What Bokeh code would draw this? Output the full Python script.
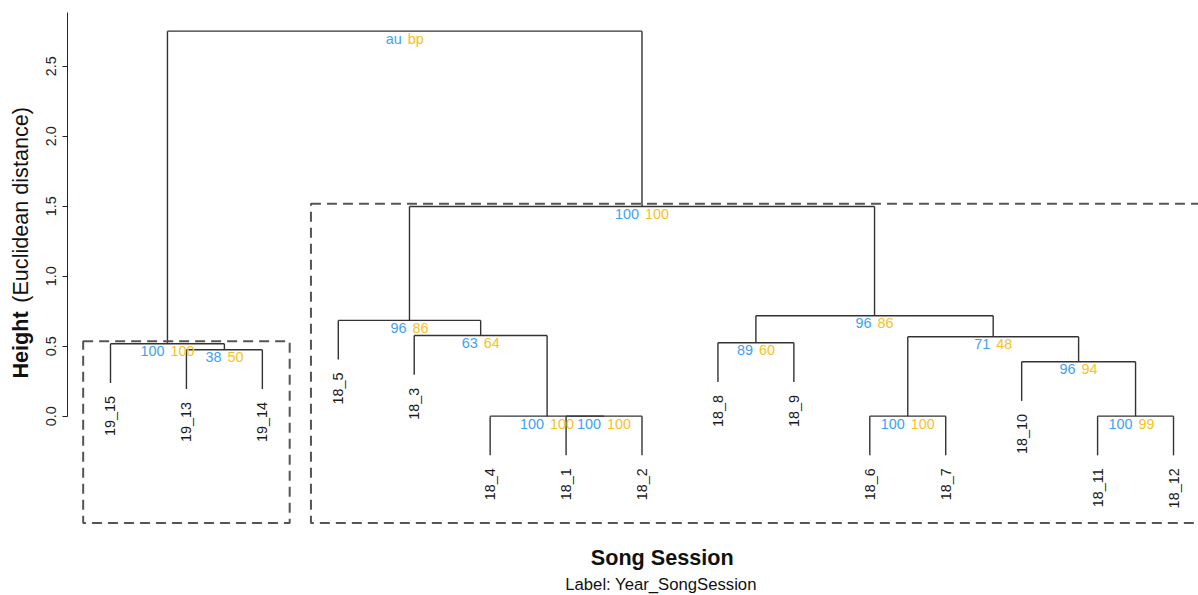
from math import pi

from bokeh.core.properties import value
from bokeh.embed import file_html
from bokeh.models import FixedTicker, Label, PrintfTickFormatter, Range1d
from bokeh.plotting import figure
from bokeh.resources import INLINE

# Leaves in dendrogram order (Year_SongSession)
leaf_labels = ["19_15", "19_13", "19_14", "18_5", "18_3", "18_4", "18_1", "18_2",
               "18_8", "18_9", "18_6", "18_7", "18_10", "18_11", "18_12"]

# Agglomeration steps: children, merge height, AU / BP support (%)
node_left = ["18_1", "18_4", "18_6", "18_11", "18_10", "19_13", "19_15",
             "18_8", "n3", "18_3", "18_5", "n8", "n11", "n7"]
node_right = ["18_2", "n1", "18_7", "18_12", "n4", "19_14", "n6",
              "18_9", "n5", "n2", "n10", "n9", "n12", "n13"]
node_height = [0.0, 0.0, 0.0, 0.0, 0.389, 0.474, 0.517,
               0.524, 0.567, 0.576, 0.684, 0.717, 1.498, 2.75]
au_values = ["100", "100", "100", "100", "96", "38", "100",
             "89", "71", "63", "96", "96", "100", "au"]
bp_values = ["100", "100", "100", "99", "94", "50", "100",
             "60", "48", "64", "86", "86", "100", "bp"]

y_ticks = [0.0, 0.5, 1.0, 1.5, 2.0, 2.5]

AU_COLOR = "#3EA2EE"
BP_COLOR = "#F6C220"
EDGE_COLOR = "#333333"
FONT = "Liberation Sans"

hang = 0.28          # leaf drop below its merge
alpha = 95           # AU threshold for the boxes

# extent of the dendrogram's plotting region (used for box margins)
usr_x = (0.44, 15.56)
usr_y = (-0.781, 2.898)

# ---- dendrogram geometry -------------------------------------------------
pos = {name: i + 1 for i, name in enumerate(leaf_labels)}
height = {}
members = {name: [name] for name in leaf_labels}
leaf_end = {}
x0s, y0s, x1s, y1s = [], [], [], []
node_x = []

for k, (l, r, h) in enumerate(zip(node_left, node_right, node_height)):
    nid = f"n{k + 1}"
    for c in (l, r):
        if c in height:
            cy = height[c]
        else:
            cy = h - hang
            leaf_end[c] = cy
        x0s.append(pos[c]); y0s.append(cy); x1s.append(pos[c]); y1s.append(h)
    x0s.append(pos[l]); y0s.append(h); x1s.append(pos[r]); y1s.append(h)
    pos[nid] = (pos[l] + pos[r]) / 2
    height[nid] = h
    members[nid] = members[l] + members[r]
    node_x.append(pos[nid])

# ---- figure: the frame spans the whole canvas ----------------------------
p = figure(width=1198, height=595, output_backend="svg", toolbar_location=None,
           x_range=Range1d(-0.4487, 15.329), y_range=Range1d(-1.281, 2.969),
           x_axis_location=None,
           min_border_left=0, min_border_right=0, min_border_top=0, min_border_bottom=0)
p.grid.visible = False
p.outline_line_color = None
p.background_fill_color = "white"
p.border_fill_color = "white"

ax = p.yaxis[0]
ax.fixed_location = 0.4297
ax.ticker = FixedTicker(ticks=y_ticks)
ax.formatter = PrintfTickFormatter(format="%.1f")
ax.bounds = (0, 2.88)
ax.major_label_orientation = "parallel"
ax.major_label_text_font = FONT
ax.major_label_text_font_size = "14.4px"
ax.major_label_text_color = "#222222"
ax.major_label_standoff = 6
ax.major_tick_out = 5
ax.major_tick_in = 0
ax.minor_tick_out = 0
ax.minor_tick_in = 0
ax.axis_line_color = "#222222"
ax.major_tick_line_color = "#222222"

# branches
p.segment(x0=x0s, y0=y0s, x1=x1s, y1=y1s, line_color=EDGE_COLOR, line_width=1.4)

# boxes around clusters with high AU support (largest clusters only)
mx = (usr_x[1] - usr_x[0]) / len(node_height) / 3
my = (usr_y[1] - usr_y[0]) / 200
covered = set()
qx0, qx1, qy0, qy1 = [], [], [], []
for k in range(len(node_height) - 2, -1, -1):
    au = au_values[k]
    if not au.isdigit() or int(au) < alpha:
        continue
    nid = f"n{k + 1}"
    mem = members[nid]
    if covered.intersection(mem):
        continue
    xs = [pos[m] for m in mem]
    qx0.append(min(xs) - mx); qx1.append(max(xs) + mx)
    qy0.append(usr_y[0] + my); qy1.append(node_height[k] + my)
    covered.update(mem)

p.quad(left=qx0, right=qx1, bottom=qy0, top=qy1, fill_color=None,
       line_color="#555555", line_width=2, line_dash="10 6")

# support values
p.text(x=node_x, y=node_height, text=au_values, text_color=AU_COLOR,
       text_align="right", text_baseline="middle", x_offset=-3, y_offset=7.5,
       text_font=value(FONT), text_font_size="14.4px")
p.text(x=node_x, y=node_height, text=bp_values, text_color=BP_COLOR,
       text_align="left", text_baseline="middle", x_offset=3, y_offset=7.5,
       text_font=value(FONT), text_font_size="14.4px")

# leaf labels
p.text(x=[pos[n] for n in leaf_labels], y=[leaf_end[n] for n in leaf_labels],
       text=leaf_labels, angle=pi / 2, text_align="right", text_baseline="middle",
       y_offset=13, text_color="#1a1a1a",
       text_font=value(FONT), text_font_size="14.4px")

# axis titles
p.add_layout(Label(x=-0.18, y=0.269, text="Height", angle=pi / 2,
                   text_align="left", text_baseline="alphabetic",
                   text_font=FONT, text_font_size="21.6px", text_font_style="bold",
                   text_color="#111111"))
p.add_layout(Label(x=-0.18, y=0.81, text="(Euclidean distance)", angle=pi / 2,
                   text_align="left", text_baseline="alphabetic",
                   text_font=FONT, text_font_size="21.6px", text_color="#111111"))
p.add_layout(Label(x=8.266, y=-1.013, text="Song Session",
                   text_align="center", text_baseline="alphabetic",
                   text_font=FONT, text_font_size="21.6px", text_font_style="bold",
                   text_color="#111111"))
p.add_layout(Label(x=8.25, y=-1.2, text="Label: Year_SongSession",
                   text_align="center", text_baseline="alphabetic",
                   text_font=FONT, text_font_size="16.7px", text_color="#111111"))

with open("out.html", "w") as f:
    f.write(file_html(p, INLINE))
